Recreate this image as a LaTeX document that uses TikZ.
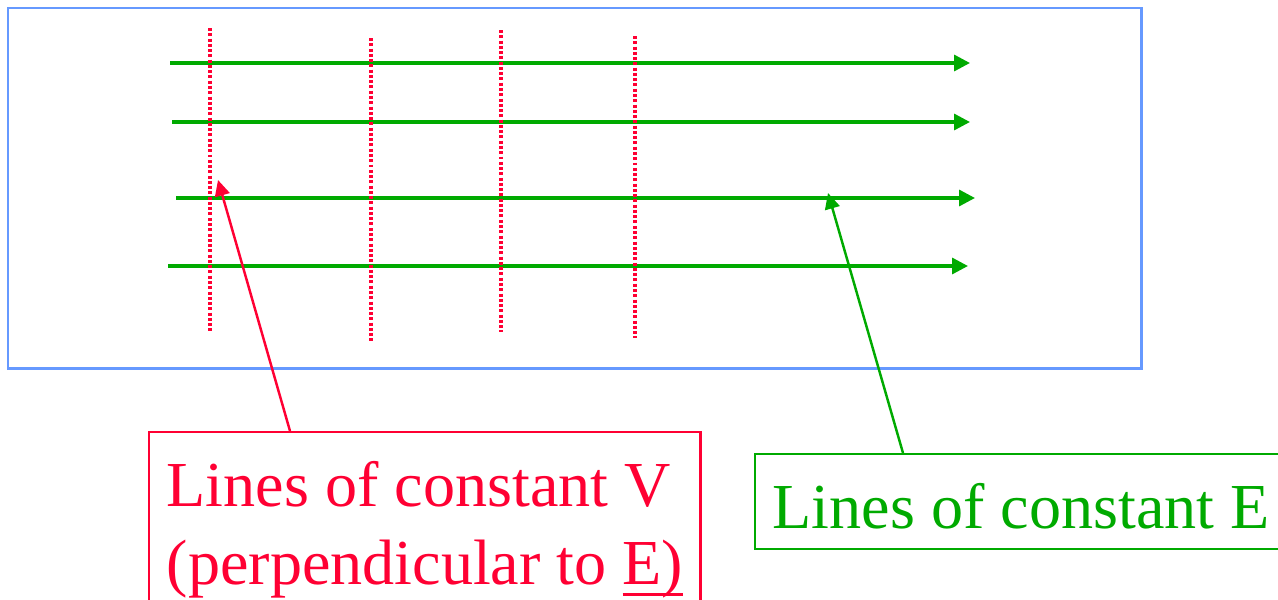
\documentclass[tikz,border=0pt]{standalone}
\usepackage{fontspec}
\setmainfont{Liberation Serif}
\usepackage{xcolor}
\usetikzlibrary{arrows.meta,positioning,calc}
\definecolor{frameblue}{HTML}{6699FF}
\definecolor{fieldgreen}{HTML}{00AA00}
\definecolor{potred}{HTML}{FF0033}
\newcommand{\ulword}[1]{{\setbox0\hbox{#1}\rlap{\rule[-6.5pt]{\wd0}{1.6pt}}\box0}}

\begin{document}
\begin{tikzpicture}[x=0.02cm,y=-0.02cm,
  efield/.style={draw=fieldgreen,line width=1.9pt,-{Triangle[length=9pt,width=9pt]}},
  equipot/.style={draw=potred,line width=1.9pt,dash pattern=on 1.7pt off 1.3pt},
  tag/.style={draw,line width=1.4pt,align=left,anchor=north west,inner xsep=10pt,
              inner ysep=12pt,font=\fontsize{36.5}{44.4}\selectfont},
  pointer/.style={line width=1.4pt,-{Triangle[length=9pt,width=8.5pt]}}]
\useasboundingbox (0,0) rectangle (1278,599);
\clip (0,0) rectangle (1278,599);
\draw[frameblue,line width=1.7pt] (8,8) rectangle (1141,368);
% field lines (constant E)
\foreach \ya/\xa/\xb in {63/170/970,122/172/970,198/176/975,266/168/968}
  \draw[efield] (\xa,\ya) -- (\xb,\ya);
% equipotentials (constant V)
\foreach \xa/\ya/\yb in {210/28/332,371/38/342,501/30/332,635/36/338}
  \draw[equipot] (\xa,\ya) -- (\xa,\yb);
\coordinate (vtip) at (218,180);
\coordinate (etip) at (828,193);
\node[tag,draw=potred,text=potred,inner ysep=16.5pt] (vlabel) at (148,431)
  {Lines of constant V\\(perpendicular to \ulword{E)}};
\node[tag,draw=fieldgreen,text=fieldgreen,text height=30pt,text depth=0pt] (elabel) at (754,453)
  {Lines of constant E};
\draw[pointer,potred] ($(vlabel.north west)+(142,0)$) -- (vtip);
\draw[pointer,fieldgreen] ($(elabel.north west)+(149,0)$) -- (etip);
\end{tikzpicture}
\end{document}
